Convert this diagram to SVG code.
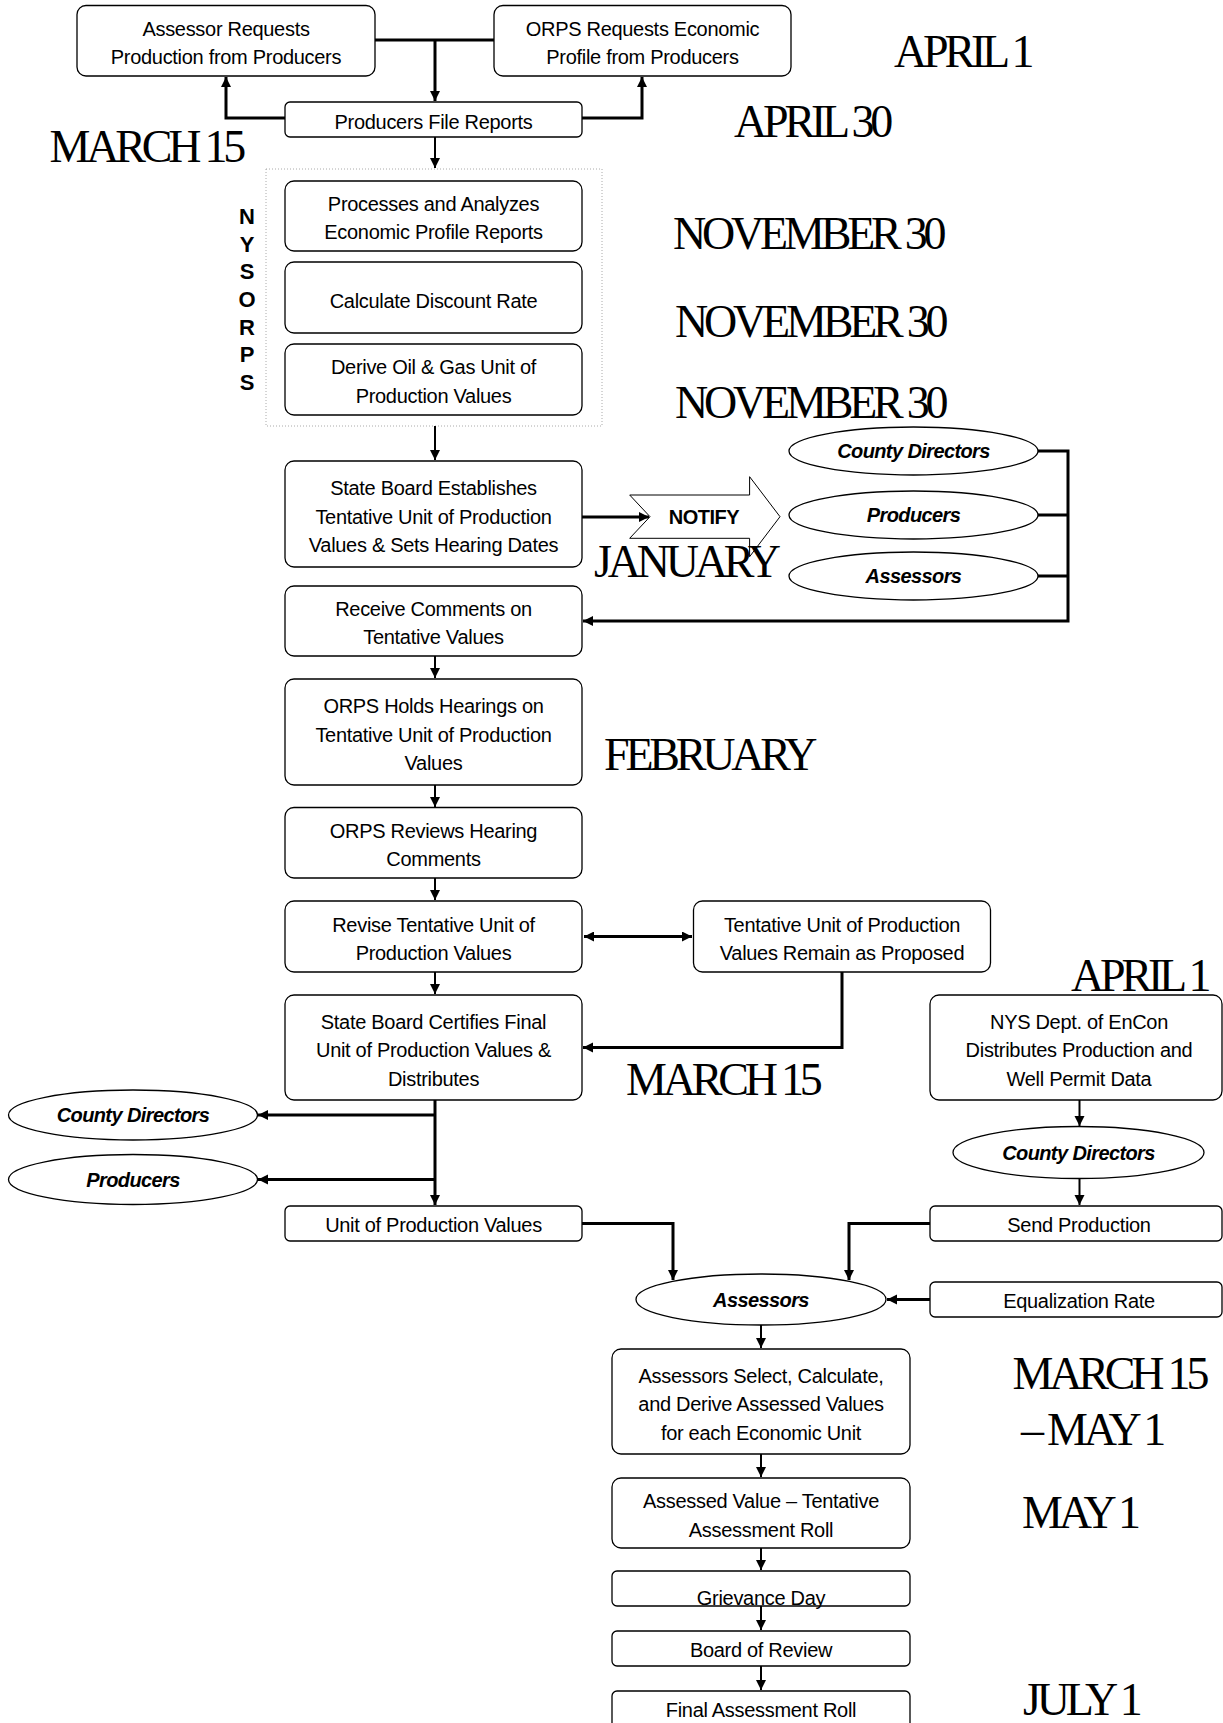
<svg xmlns="http://www.w3.org/2000/svg" width="1223" height="1723" viewBox="0 0 1223 1723">
<style>
.bx{fill:#fff;stroke:#000;stroke-width:1.3}
.el{fill:#fff;stroke:#000;stroke-width:1.3}
.t{font-family:"Liberation Sans",Arial,sans-serif;font-size:20px;text-anchor:middle;fill:#000;letter-spacing:-0.3px}
.et{font-family:"Liberation Sans",Arial,sans-serif;font-size:20px;font-weight:bold;font-style:italic;text-anchor:middle;fill:#000;letter-spacing:-0.6px}
.d{font-family:"Liberation Serif","Times New Roman",serif;font-size:46px;fill:#000;letter-spacing:-4.2px}
.c{fill:none;stroke:#000;stroke-width:3}
.v{fill:none;stroke:#000;stroke-width:2}
.ny{font-family:"Liberation Sans",Arial,sans-serif;font-size:22px;font-weight:bold;text-anchor:middle;fill:#000}
</style>
<defs>
<marker id="ah" markerUnits="userSpaceOnUse" markerWidth="11" markerHeight="11" refX="10" refY="5" orient="auto">
<path d="M0,0 L10,5 L0,10 z" fill="#000"/>
</marker>
<marker id="ahs" markerUnits="userSpaceOnUse" markerWidth="11" markerHeight="11" refX="0" refY="5" orient="auto">
<path d="M10,0 L0,5 L10,10 z" fill="#000"/>
</marker>
</defs>

<g id="container-nysorps">
<rect x="266" y="169" width="336" height="257" fill="none" stroke="#aaa" stroke-width="1" stroke-dasharray="1,2"/>
<text class="ny" x="247" y="224">N</text>
<text class="ny" x="247" y="251.7">Y</text>
<text class="ny" x="247" y="279.3">S</text>
<text class="ny" x="247" y="307">O</text>
<text class="ny" x="247" y="334.7">R</text>
<text class="ny" x="247" y="362.3">P</text>
<text class="ny" x="247" y="390">S</text>
</g>

<g id="connectors">
<path class="c" d="M375,40 H494"/>
<path class="c" d="M435,40 V101" marker-end="url(#ah)"/>
<path class="c" d="M285,118 H226 V77" marker-end="url(#ah)"/>
<path class="c" d="M582,118 H642 V77" marker-end="url(#ah)"/>
<path class="v" d="M435,137 V168" marker-end="url(#ah)"/>
<path class="v" d="M435,426 V460" marker-end="url(#ah)"/>
<path class="c" d="M582,517 H649" marker-end="url(#ah)"/>
<path class="c" d="M1038,451 H1068 M1038,515 H1068 M1038,576 H1068 M1068,449.5 V621 H583" marker-end="url(#ah)"/>
<path class="v" d="M435,656 V678" marker-end="url(#ah)"/>
<path class="v" d="M435,785 V807" marker-end="url(#ah)"/>
<path class="v" d="M435,878 V900" marker-end="url(#ah)"/>
<path class="c" d="M584,936.5 H692" marker-start="url(#ahs)" marker-end="url(#ah)"/>
<path class="v" d="M435,972 V994" marker-end="url(#ah)"/>
<path class="c" d="M842,972 V1047.5 H583" marker-end="url(#ah)"/>
<path class="c" d="M435,1100 V1205" marker-end="url(#ah)"/>
<path class="c" d="M435,1115 H258" marker-end="url(#ah)"/>
<path class="c" d="M435,1179.5 H258" marker-end="url(#ah)"/>
<path class="c" d="M582,1223.5 H673 V1280" marker-end="url(#ah)"/>
<path class="c" d="M930,1223.5 H849 V1280" marker-end="url(#ah)"/>
<path class="c" d="M930,1299.5 H887" marker-end="url(#ah)"/>
<path class="v" d="M1079.5,1100 V1126" marker-end="url(#ah)"/>
<path class="v" d="M1079.5,1178.5 V1205" marker-end="url(#ah)"/>
<path class="v" d="M761,1325 V1348" marker-end="url(#ah)"/>
<path class="v" d="M761,1454 V1477" marker-end="url(#ah)"/>
<path class="v" d="M761,1548 V1570" marker-end="url(#ah)"/>
<path class="v" d="M761,1606 V1630" marker-end="url(#ah)"/>
<path class="v" d="M761,1666 V1690" marker-end="url(#ah)"/>
</g>

<g id="n-assessor-requests">
<rect class="bx" x="77" y="5.5" width="298" height="70.5" rx="9"/>
<text class="t" x="226" y="35.5">Assessor Requests</text>
<text class="t" x="226" y="64">Production from Producers</text>
</g>
<g id="n-orps-requests">
<rect class="bx" x="494" y="5.5" width="297" height="70.5" rx="9"/>
<text class="t" x="642.5" y="35.5">ORPS Requests Economic</text>
<text class="t" x="642.5" y="64">Profile from Producers</text>
</g>
<g id="n-producers-file">
<rect class="bx" x="285" y="102" width="297" height="35" rx="5"/>
<text class="t" x="433.5" y="128.5">Producers File Reports</text>
</g>
<g id="n-processes">
<rect class="bx" x="285" y="181" width="297" height="70" rx="9"/>
<text class="t" x="433.5" y="210.5">Processes and Analyzes</text>
<text class="t" x="433.5" y="238.5">Economic Profile Reports</text>
</g>
<g id="n-discount">
<rect class="bx" x="285" y="262" width="297" height="71" rx="9"/>
<text class="t" x="433.5" y="307.5">Calculate Discount Rate</text>
</g>
<g id="n-derive">
<rect class="bx" x="285" y="344" width="297" height="71" rx="9"/>
<text class="t" x="433.5" y="374.3">Derive Oil &amp; Gas Unit of</text>
<text class="t" x="433.5" y="402.8">Production Values</text>
</g>
<g id="n-state-board-establishes">
<rect class="bx" x="285" y="461" width="297" height="106" rx="9"/>
<text class="t" x="433.5" y="495">State Board Establishes</text>
<text class="t" x="433.5" y="523.5">Tentative Unit of Production</text>
<text class="t" x="433.5" y="552">Values &amp; Sets Hearing Dates</text>
</g>
<g id="n-notify">
<polygon points="629.7,495 749.6,495 749.6,476.7 780,516.7 749.6,556.7 749.6,538.3 629.7,538.3 650,516.7" fill="#fff" stroke="#000" stroke-width="1"/>
<text x="704" y="523.5" font-family="Liberation Sans,Arial,sans-serif" font-size="20" font-weight="bold" text-anchor="middle" letter-spacing="-0.5">NOTIFY</text>
</g>
<g id="n-county-directors-1">
<ellipse class="el" cx="913.5" cy="451" rx="124.5" ry="24"/>
<text class="et" x="913.5" y="458">County Directors</text>
</g>
<g id="n-producers-1">
<ellipse class="el" cx="913.5" cy="515" rx="124.5" ry="24"/>
<text class="et" x="913.5" y="522">Producers</text>
</g>
<g id="n-assessors-1">
<ellipse class="el" cx="913.5" cy="576" rx="124.5" ry="24"/>
<text class="et" x="913.5" y="583">Assessors</text>
</g>
<g id="n-receive-comments">
<rect class="bx" x="285" y="586" width="297" height="70" rx="9"/>
<text class="t" x="433.5" y="615.8">Receive Comments on</text>
<text class="t" x="433.5" y="644.3">Tentative Values</text>
</g>
<g id="n-orps-holds">
<rect class="bx" x="285" y="679" width="297" height="106" rx="9"/>
<text class="t" x="433.5" y="713">ORPS Holds Hearings on</text>
<text class="t" x="433.5" y="741.5">Tentative Unit of Production</text>
<text class="t" x="433.5" y="770">Values</text>
</g>
<g id="n-orps-reviews">
<rect class="bx" x="285" y="807.5" width="297" height="70.5" rx="9"/>
<text class="t" x="433.5" y="837.5">ORPS Reviews Hearing</text>
<text class="t" x="433.5" y="866">Comments</text>
</g>
<g id="n-revise">
<rect class="bx" x="285" y="901" width="297" height="71" rx="9"/>
<text class="t" x="433.5" y="931.5">Revise Tentative Unit of</text>
<text class="t" x="433.5" y="960">Production Values</text>
</g>
<g id="n-remain">
<rect class="bx" x="693.5" y="901" width="297" height="71" rx="9"/>
<text class="t" x="842" y="931.5">Tentative Unit of Production</text>
<text class="t" x="842" y="960">Values Remain as Proposed</text>
</g>
<g id="n-state-board-certifies">
<rect class="bx" x="285" y="995" width="297" height="105" rx="9"/>
<text class="t" x="433.5" y="1028.5">State Board Certifies Final</text>
<text class="t" x="433.5" y="1057">Unit of Production Values &amp;</text>
<text class="t" x="433.5" y="1085.5">Distributes</text>
</g>
<g id="n-county-directors-2">
<ellipse class="el" cx="133" cy="1115" rx="124.5" ry="25"/>
<text class="et" x="133" y="1122">County Directors</text>
</g>
<g id="n-producers-2">
<ellipse class="el" cx="133" cy="1179.5" rx="124.5" ry="25"/>
<text class="et" x="133" y="1186.5">Producers</text>
</g>
<g id="n-unit-values">
<rect class="bx" x="285" y="1206" width="297" height="35" rx="5"/>
<text class="t" x="433.5" y="1232">Unit of Production Values</text>
</g>
<g id="n-encon">
<rect class="bx" x="930" y="995" width="292" height="105" rx="9"/>
<text class="t" x="1079" y="1028.5">NYS Dept. of EnCon</text>
<text class="t" x="1079" y="1057">Distributes Production and</text>
<text class="t" x="1079" y="1085.5">Well Permit Data</text>
</g>
<g id="n-county-directors-3">
<ellipse class="el" cx="1078.5" cy="1152.5" rx="125.5" ry="26"/>
<text class="et" x="1078.5" y="1159.5">County Directors</text>
</g>
<g id="n-send-production">
<rect class="bx" x="930" y="1206" width="292" height="35" rx="5"/>
<text class="t" x="1079" y="1232">Send Production</text>
</g>
<g id="n-equalization">
<rect class="bx" x="930" y="1282" width="292" height="35" rx="5"/>
<text class="t" x="1079" y="1307.5">Equalization Rate</text>
</g>
<g id="n-assessors-2">
<ellipse class="el" cx="761" cy="1299.5" rx="125" ry="25.5"/>
<text class="et" x="761" y="1306.5">Assessors</text>
</g>
<g id="n-assessors-select">
<rect class="bx" x="612" y="1349" width="298" height="105" rx="9"/>
<text class="t" x="761" y="1382.5">Assessors Select, Calculate,</text>
<text class="t" x="761" y="1411">and Derive Assessed Values</text>
<text class="t" x="761" y="1439.5">for each Economic Unit</text>
</g>
<g id="n-assessed-value">
<rect class="bx" x="612" y="1478" width="298" height="70" rx="9"/>
<text class="t" x="761" y="1508">Assessed Value – Tentative</text>
<text class="t" x="761" y="1536.5">Assessment Roll</text>
</g>
<g id="n-grievance">
<rect class="bx" x="612" y="1571" width="298" height="35" rx="5"/>
<text class="t" x="761" y="1605">Grievance Day</text>
</g>
<g id="n-board-review">
<rect class="bx" x="612" y="1631" width="298" height="35" rx="5"/>
<text class="t" x="761" y="1657">Board of Review</text>
</g>
<g id="n-final-roll">
<rect class="bx" x="612" y="1691" width="298" height="40" rx="5"/>
<text class="t" x="761" y="1717">Final Assessment Roll</text>
</g>

<g id="dates">
<text class="d" x="894" y="67">APRIL 1</text>
<text class="d" x="734" y="136.5" letter-spacing="-3.1">APRIL 30</text>
<text class="d" x="49.5" y="161.5">MARCH 15</text>
<text class="d" x="673" y="249" letter-spacing="-4.1">NOVEMBER 30</text>
<text class="d" x="675" y="336.5" letter-spacing="-4.1">NOVEMBER 30</text>
<text class="d" x="675" y="418" letter-spacing="-4.1">NOVEMBER 30</text>
<text class="d" x="594" y="576.5" letter-spacing="-4.4">JANUARY</text>
<text class="d" x="604" y="770" letter-spacing="-3.8">FEBRUARY</text>
<text class="d" x="626" y="1095">MARCH 15</text>
<text class="d" x="1071" y="991">APRIL 1</text>
<text class="d" x="1012.6" y="1389">MARCH 15</text>
<text class="d" x="1021" y="1445" letter-spacing="-2.8">– MAY 1</text>
<text class="d" x="1022" y="1528" letter-spacing="-4">MAY 1</text>
<text class="d" x="1023" y="1715" letter-spacing="-3.6">JULY 1</text>
</g>
</svg>
